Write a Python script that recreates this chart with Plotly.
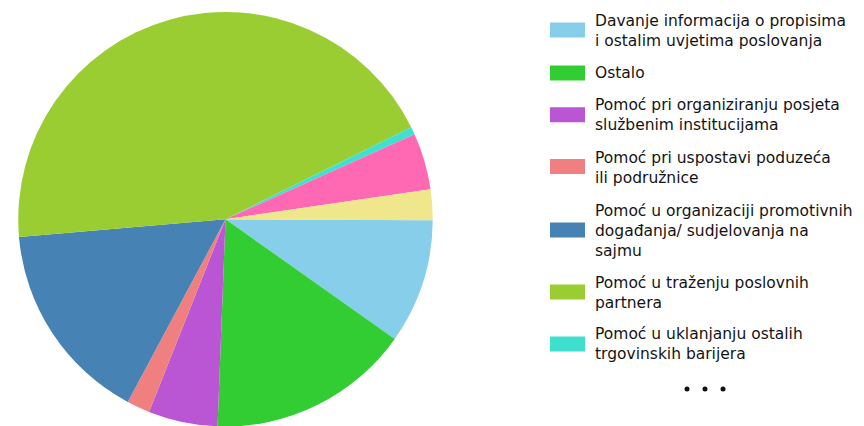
import plotly.graph_objects as go

# ---- data ----
labels = [
    "Davanje informacija o propisima i ostalim uvjetima poslovanja",
    "Ostalo",
    "Pomoć pri organiziranju posjeta službenim institucijama",
    "Pomoć pri uspostavi poduzeća ili podružnice",
    "Pomoć u organizaciji promotivnih događanja/ sudjelovanja na sajmu",
    "Pomoć u traženju poslovnih partnera",
    "Pomoć u uklanjanju ostalih trgovinskih barijera",
    "Pomoć u zaštiti intelektualnog vlasništva",
    "Pomoć u rješavanju sporova",
]
values = [9.7, 15.8, 5.4, 1.8, 15.8, 44.0, 0.6, 4.4, 2.4]
colors = ["#87CEEB", "#32CD32", "#BA55D3", "#F08080", "#4682B4",
          "#9ACD32", "#40E0D0", "#FF69B4", "#F0E68C"]
# legend text as wrapped in the reference (first 7 items shown)
legend_lines = [
    ["Davanje informacija o propisima", "i ostalim uvjetima poslovanja"],
    ["Ostalo"],
    ["Pomoć pri organiziranju posjeta", "službenim institucijama"],
    ["Pomoć pri uspostavi poduzeća", "ili podružnice"],
    ["Pomoć u organizaciji promotivnih", "događanja/ sudjelovanja na", "sajmu"],
    ["Pomoć u traženju poslovnih", "partnera"],
    ["Pomoć u uklanjanju ostalih", "trgovinskih barijera"],
]

W, H = 864, 426
OFF = 8  # page body margin


def px(x):
    return (x - OFF) / W


def py(y):
    return 1 - (y - OFF) / H


fig = go.Figure()
fig.add_trace(go.Pie(
    labels=labels, values=values, sort=False, direction="clockwise",
    rotation=90.3, textinfo="none", hoverinfo="label+percent",
    marker=dict(colors=colors, line=dict(width=0)),
    domain=dict(x=[px(18), px(433)], y=[py(426.5), py(12)]),
    showlegend=False,
))

shapes = []
annotations = []
swatch_centers = [30, 73, 114.7, 166.5, 230, 292, 344]
text_centers = [31, 73, 115.5, 168, 231, 292.5, 343.5]
font = dict(family="DejaVu Sans, Verdana, sans-serif", size=15.5, color="#141414")
for i, lines in enumerate(legend_lines):
    c = swatch_centers[i]
    shapes.append(dict(type="rect", xref="paper", yref="paper",
                       x0=px(550), x1=px(585), y0=py(c + 7.5), y1=py(c - 7.5),
                       fillcolor=colors[i], line=dict(width=0)))
    annotations.append(dict(text="<br>".join(lines), xref="paper", yref="paper",
                            x=px(593), y=py(text_centers[i]), xanchor="left",
                            yanchor="middle", align="left", showarrow=False,
                            font=font))
for dx in (687, 705, 723):
    shapes.append(dict(type="circle", xref="paper", yref="paper",
                       x0=px(dx - 2.5), x1=px(dx + 2.5), y0=py(391.5), y1=py(386.5),
                       fillcolor="#111111", line=dict(width=0)))

fig.update_layout(
    width=W, height=H, margin=dict(l=0, r=0, t=0, b=0),
    paper_bgcolor="white", plot_bgcolor="white",
    shapes=shapes, annotations=annotations, showlegend=False,
)
fig.write_html("out.html")
